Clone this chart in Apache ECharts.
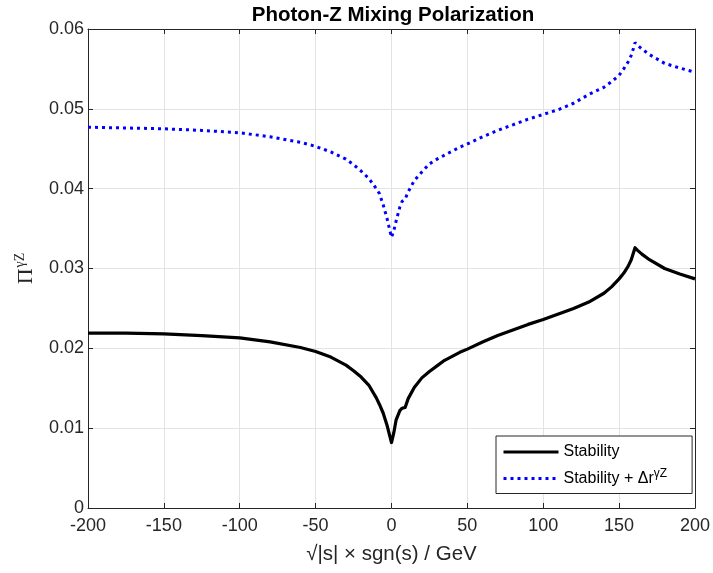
<!DOCTYPE html>
<html>
<head>
<meta charset="utf-8">
<script src="https://cdn.jsdelivr.net/npm/echarts@6/dist/echarts.min.js"></script>
<style>html,body{margin:0;padding:0;background:#fff}#c{width:713px;height:573px}</style>
</head>
<body>
<div id="c"></div>
<script>
// Data
const xs = [-200,-175,-150,-125,-100,-80,-60,-50,-40,-30,-25,-20,-15,-10,-8,-5.5,-3,-1.5,0,1.5,3,5.5,7,9,11,15,20,25,30,35,40,45,50,60,70,80,90,100,110,120,130,140,145,150,153,156,158,159.5,160.5,162,165,170,180,190,200];
const stability = [0.0219,0.0219,0.0218,0.0216,0.0213,0.0208,0.0201,0.0196,0.0189,0.0179,0.0172,0.0164,0.0154,0.0138,0.0130,0.0119,0.0104,0.0093,0.0082,0.0094,0.0110,0.0122,0.0125,0.0126,0.0137,0.0151,0.0163,0.0171,0.0178,0.0185,0.0190,0.0195,0.0199,0.0208,0.0216,0.0223,0.0230,0.0236,0.0243,0.0250,0.0258,0.0269,0.0277,0.0287,0.0294,0.0303,0.0311,0.0320,0.0326,0.0323,0.0318,0.0311,0.0300,0.0293,0.0287];
const stabilityDr = [0.0477,0.0476,0.0475,0.0473,0.0470,0.0465,0.0458,0.0453,0.0446,0.0437,0.0430,0.0422,0.0413,0.0400,0.0394,0.0380,0.0363,0.0351,0.0339,0.0347,0.0359,0.0377,0.0384,0.0387,0.0396,0.0410,0.0421,0.0431,0.0437,0.0442,0.0447,0.0452,0.0456,0.0465,0.0473,0.0480,0.0487,0.0493,0.0499,0.0507,0.0518,0.0527,0.0534,0.0542,0.0550,0.0559,0.0567,0.0576,0.0583,0.0580,0.0575,0.0568,0.0557,0.0551,0.0546];
const xTicks = {min:-200, max:200, interval:50};
const yTicks = {min:0, max:0.06, interval:0.01};
const seriesNames = ['Stability', 'Stability + \u0394r^\u03b3Z'];

const chart = echarts.init(document.getElementById('c'));
const axisColor = '#262626';
const font = 'Liberation Sans, Arial, Helvetica, sans-serif';
const pair = (a, b) => a.map((v, i) => [v, b[i]]);
chart.setOption({
  animation: false,
  backgroundColor: '#fff',
  title: {
    text: 'Photon-Z Mixing Polarization',
    left: 388, top: 0, textAlign: 'center',
    textStyle: {fontFamily: font, fontSize: 20.5, fontWeight: 'bold', color: '#000'}
  },
  grid: {left: 88, right: 15, top: 29, bottom: 65, containLabel: false},
  legend: {
    orient: 'vertical', left: 496, top: 436,
    backgroundColor: '#fff', borderColor: axisColor, borderWidth: 1,
    padding: [8, 25, 7, 6], itemGap: 8, itemWidth: 55, itemHeight: 14,
    data: seriesNames,
    itemStyle: {color: 'rgba(0,0,0,0)', borderWidth: 0, opacity: 0},
    lineStyle: {width: 3},
    textStyle: {
      fontFamily: font, fontSize: 16, color: '#000',
      rich: {
        b: {fontFamily: font, fontSize: 16, color: '#000'},
        s: {fontFamily: font, fontSize: 12, color: '#000', padding: [0, 0, 9, 0]}
      }
    },
    formatter: function (n) {
      if (n.indexOf('^') >= 0) {
        const p = n.split('^');
        return '{b|' + p[0] + '}{s|' + p[1] + '}';
      }
      return n;
    }
  },
  xAxis: [{
    type: 'value', min: xTicks.min, max: xTicks.max, interval: xTicks.interval,
    name: '\u221a|s| \u00d7 sgn(s) / GeV', nameLocation: 'middle', nameGap: 36,
    nameTextStyle: {fontFamily: font, fontSize: 20.5, color: axisColor},
    axisLine: {onZero: false, lineStyle: {color: axisColor, width: 1}},
    axisTick: {inside: true, length: 5, lineStyle: {color: axisColor}},
    axisLabel: {fontFamily: font, fontSize: 18, color: axisColor, margin: 9},
    splitLine: {show: true, lineStyle: {color: '#e3e3e3', width: 1}}
  }, {
    type: 'value', position: 'top', min: xTicks.min, max: xTicks.max, interval: xTicks.interval,
    axisLine: {onZero: false, lineStyle: {color: axisColor, width: 1}},
    axisTick: {inside: true, length: 5, lineStyle: {color: axisColor}},
    axisLabel: {show: false}, splitLine: {show: false}
  }],
  yAxis: [{
    type: 'value', min: yTicks.min, max: yTicks.max, interval: yTicks.interval,
    name: '{p|\u03a0}{s|\u03b3Z}', nameLocation: 'middle', nameGap: 49, nameRotate: 90,
    nameTextStyle: {
      rich: {
        p: {fontFamily: 'Liberation Serif, Times New Roman, serif', fontSize: 22, color: axisColor},
        s: {fontFamily: 'Liberation Serif, Times New Roman, serif', fontSize: 14, color: axisColor, padding: [0, 0, 12, 1]}
      }
    },
    axisLine: {onZero: false, lineStyle: {color: axisColor, width: 1}},
    axisTick: {inside: true, length: 5, lineStyle: {color: axisColor}},
    axisLabel: {fontFamily: font, fontSize: 18, color: axisColor, margin: 4,
      formatter: v => String(+v.toFixed(2))},
    splitLine: {show: true, lineStyle: {color: '#e3e3e3', width: 1}}
  }, {
    type: 'value', position: 'right', min: yTicks.min, max: yTicks.max, interval: yTicks.interval,
    axisLine: {onZero: false, lineStyle: {color: axisColor, width: 1}},
    axisTick: {inside: true, length: 5, lineStyle: {color: axisColor}},
    axisLabel: {show: false}, splitLine: {show: false}
  }],
  series: [{
    name: seriesNames[0], type: 'line', data: pair(xs, stability),
    showSymbol: false, symbol: 'none', smooth: false,
    lineStyle: {color: '#000', width: 3.2, cap: 'butt', join: 'round'},
    itemStyle: {color: '#000'}
  }, {
    name: seriesNames[1], type: 'line', data: pair(xs, stabilityDr),
    showSymbol: false, symbol: 'none', smooth: false,
    lineStyle: {color: '#0000ff', width: 3, type: [3, 4], cap: 'butt'},
    itemStyle: {color: '#0000ff'}
  }]
});
</script>
</body>
</html>
